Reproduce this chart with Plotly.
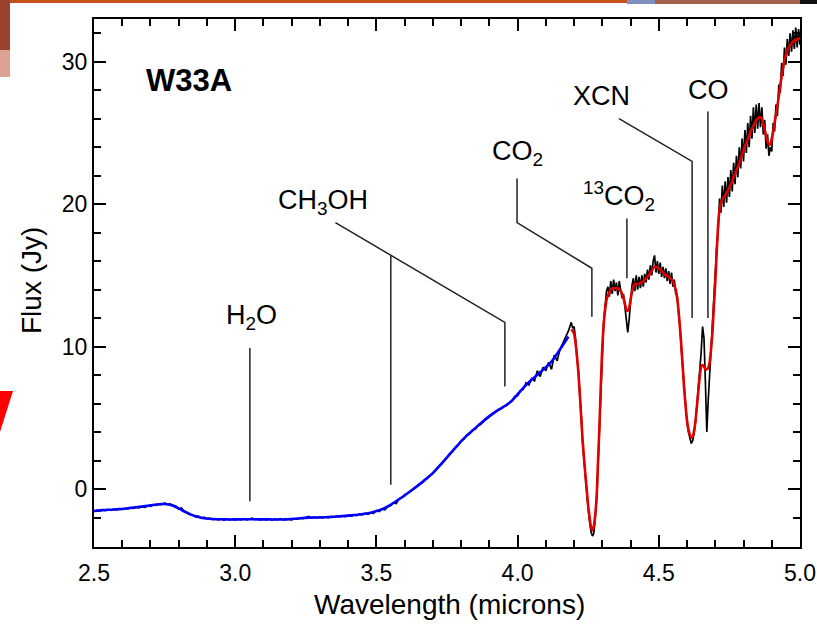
import numpy as np
import plotly.graph_objects as go

# ---------------- data ----------------
# observed spectrum (black), part 1: 2.50-4.18 micron, step 0.01
obs1_start, obs1_step = 2.50, 0.01
obs1_flux = [
    -1.58, -1.50, -1.55, -1.46, -1.52, -1.44, -1.49, -1.43, -1.46, -1.40,
    -1.43, -1.37, -1.40, -1.32, -1.36, -1.28, -1.33, -1.24, -1.28, -1.19,
    -1.22, -1.12, -1.15, -1.06, -1.10, -0.98, -1.08, -1.04, -1.15, -1.20,
    -1.40, -1.33, -1.60, -1.70, -1.80, -1.83, -1.95, -1.90, -2.05, -1.98,
    -2.10, -2.04, -2.15, -2.08, -2.16, -2.10, -2.18, -2.09, -2.16, -2.11,
    -2.17, -2.10, -2.15, -2.08, -2.16, -2.11, -2.05, -2.14, -2.09, -2.17,
    -2.10, -2.16, -2.09, -2.18, -2.12, -2.15, -2.08, -2.17, -2.11, -2.14,
    -2.16, -2.09, -2.12, -2.05, -2.08, -2.00, -1.93, -2.04, -1.97, -2.03,
    -1.96, -2.02, -1.95, -2.00, -1.92, -1.98, -1.91, -1.96, -1.88, -1.94,
    -1.85, -1.90, -1.82, -1.86, -1.76, -1.81, -1.70, -1.77, -1.66, -1.70,
    -1.52, -1.58, -1.40, -1.46, -1.25, -1.17, -0.97, -1.02, -0.70, -0.60,
    -0.40, -0.32, -0.18, 0.00, 0.10, 0.32, 0.40, 0.64, 0.75, 0.96,
    1.15, 1.30, 1.58, 1.74, 2.02, 2.20, 2.50, 2.63, 2.95, 3.10,
    3.40, 3.50, 3.80, 3.88, 4.15, 4.20, 4.45, 4.55, 4.75, 4.90,
    5.05, 5.25, 5.35, 5.55, 5.62, 5.80, 5.85, 6.05, 6.20, 6.50,
    6.55, 6.90, 7.00, 7.45, 7.30, 7.75, 7.60, 8.30, 7.90, 8.55,
    8.30, 8.90, 8.40, 9.40, 9.00, 9.80, 10.20, 10.60, 11.10,
]
# observed spectrum (black), part 2: 4.19-5.00 micron, step 0.005
obs2_start, obs2_step = 4.19, 0.005
obs2_flux = [
    11.7, 11.3, 11.4, 10.6, 9.2, 8.4, 6.6, 5.3, 3.3, 2.0,
    0.8, -0.3, -1.4, -2.3, -3.0, -3.3, -3.1, -2.0, -0.6, 1.8,
    4.4, 7.3, 9.9, 11.8, 12.9, 13.9, 14.2, 13.5, 14.6, 13.7,
    14.7, 13.9, 14.5, 13.6, 14.6, 14.0, 13.4, 13.7, 12.7, 12.0,
    11.0, 11.9, 13.5, 14.3, 14.8, 13.9, 15.0, 14.0, 14.9, 14.1,
    15.0, 14.2, 15.1, 14.5, 15.4, 14.7, 15.7, 15.0, 16.0, 16.4,
    15.2, 16.0, 15.1, 15.9, 14.9, 15.6, 14.8, 15.5, 14.6, 15.3,
    14.4, 15.2, 14.2, 14.7, 13.7, 13.6, 12.4, 11.4, 9.8, 8.4,
    6.8, 5.6, 4.6, 4.0, 3.5, 3.2, 3.4, 3.9, 4.7, 5.8,
    7.0, 8.2, 9.6, 11.4, 10.6, 7.5, 4.0, 6.2, 8.0, 10.4,
    11.8, 13.4, 15.2, 17.0, 18.0, 20.4, 19.4, 21.3, 19.8, 21.6,
    20.1, 21.9, 20.5, 22.4, 20.9, 22.9, 21.4, 23.4, 21.9, 24.0,
    22.5, 24.6, 23.0, 25.2, 23.6, 25.7, 24.0, 26.2, 24.6, 26.8,
    25.0, 27.0, 25.3, 27.1, 25.4, 26.8, 24.9, 25.9, 23.9, 24.9,
    23.4, 24.0, 23.7, 25.7, 25.1, 27.0, 26.2, 28.4, 27.8, 29.9,
    29.0, 31.0, 29.8, 31.6, 30.4, 32.0, 30.7, 32.2, 30.9, 32.4,
    31.0, 32.3, 31.2,
]
# model fit, blue part: 2.50-4.18 micron, step 0.02
blue_start, blue_step = 2.50, 0.02
blue_flux = [
    -1.54, -1.50, -1.47, -1.45, -1.42, -1.40, -1.35, -1.30, -1.25, -1.20,
    -1.15, -1.09, -1.05, -1.07, -1.18, -1.36, -1.57, -1.76, -1.91, -2.01,
    -2.07, -2.10, -2.12, -2.13, -2.14, -2.13, -2.13, -2.12, -2.12, -2.13,
    -2.13, -2.13, -2.14, -2.14, -2.13, -2.10, -2.07, -2.03, -2.01, -2.00,
    -2.00, -1.98, -1.96, -1.93, -1.90, -1.87, -1.83, -1.79, -1.74, -1.66,
    -1.55, -1.42, -1.22, -0.98, -0.72, -0.45, -0.15, 0.14, 0.45, 0.78,
    1.12, 1.55, 2.00, 2.45, 2.90, 3.35, 3.75, 4.10, 4.45, 4.80,
    5.12, 5.40, 5.65, 5.90, 6.20, 6.65, 7.10, 7.50, 7.85, 8.20,
    8.55, 8.95, 9.50, 10.10, 10.70,
]
# model fit, red part: 4.19-5.00 micron, step 0.005
red_start, red_step = 4.19, 0.005
red_flux = [
    11.2, 11.1, 10.9, 10.3, 9.4, 8.2, 6.8, 5.1, 3.5, 2.2,
    1.0, -0.1, -1.2, -2.0, -2.7, -2.9, -2.6, -1.8, -0.5, 2.0,
    4.5, 7.5, 10.0, 11.6, 12.6, 13.3, 13.6, 13.8, 14.0, 14.1,
    14.1, 14.1, 14.1, 14.1, 14.0, 13.9, 13.7, 13.4, 13.0, 12.6,
    12.5, 12.7, 13.3, 13.8, 14.2, 14.4, 14.4, 14.4, 14.4, 14.5,
    14.5, 14.6, 14.7, 14.8, 14.9, 15.0, 15.2, 15.3, 15.5, 15.6,
    15.6, 15.6, 15.5, 15.4, 15.3, 15.2, 15.1, 15.0, 15.0, 14.9,
    14.8, 14.7, 14.6, 14.3, 14.0, 13.4, 12.5, 11.3, 10.0, 8.5,
    7.0, 5.8, 4.8, 4.2, 3.8, 3.6, 3.7, 4.1, 4.8, 5.8,
    6.9, 7.9, 8.6, 8.7, 8.6, 8.4, 8.4, 8.5, 8.9, 9.8,
    11.0, 12.8, 14.5, 16.6, 18.5, 19.6, 20.1, 20.3, 20.5, 20.6,
    20.8, 21.0, 21.2, 21.4, 21.6, 21.9, 22.1, 22.4, 22.6, 22.9,
    23.2, 23.5, 23.8, 24.1, 24.3, 24.6, 24.8, 25.1, 25.3, 25.5,
    25.7, 25.9, 26.0, 26.1, 26.1, 26.0, 25.6, 25.2, 24.8, 24.4,
    24.2, 24.2, 24.6, 25.1, 25.7, 26.3, 26.9, 27.6, 28.3, 29.0,
    29.6, 30.1, 30.5, 30.8, 31.0, 31.2, 31.3, 31.4, 31.5, 31.5,
    31.6, 31.6, 31.7,
]

x_ticks = [2.5, 3.0, 3.5, 4.0, 4.5, 5.0]
x_tick_labels = ["2.5", "3.0", "3.5", "4.0", "4.5", "5.0"]
y_ticks = [0, 10, 20, 30]
y_tick_labels = ["0", "10", "20", "30"]

def grid(start, step, n):
    return np.round(start + step * np.arange(n), 4)

obs_x = np.concatenate([grid(obs1_start, obs1_step, len(obs1_flux)),
                        grid(obs2_start, obs2_step, len(obs2_flux))])
obs_y = np.array(obs1_flux + obs2_flux)
blue_x = grid(blue_start, blue_step, len(blue_flux))
red_x = grid(red_start, red_step, len(red_flux))

FONT = "Liberation Sans, Arial, Helvetica, sans-serif"

fig = go.Figure()
fig.add_trace(go.Scatter(x=obs_x, y=obs_y, mode="lines",
                         line=dict(color="black", width=1.7), showlegend=False))
fig.add_trace(go.Scatter(x=blue_x, y=blue_flux, mode="lines",
                         line=dict(color="#0000ff", width=2.6, shape="spline", smoothing=0.6),
                         showlegend=False))
fig.add_trace(go.Scatter(x=red_x, y=red_flux, mode="lines",
                         line=dict(color="#e00000", width=2.6, shape="spline", smoothing=0.6),
                         showlegend=False))

# label leader lines (data coordinates)
LC = "#222222"
leaders = [
    [(3.052, 9.9), (3.052, -0.85)],                       # H2O
    [(3.355, 18.7), (3.955, 11.7), (3.955, 7.2)],          # CH3OH (upper)
    [(3.551, 16.4), (3.551, 0.3)],                         # CH3OH (3.55)
    [(3.998, 21.8), (3.998, 18.7), (4.263, 15.5), (4.263, 12.1)],  # CO2
    [(4.387, 19.0), (4.387, 14.8)],                        # 13CO2
    [(4.359, 26.0), (4.618, 23.0), (4.618, 12.0)],         # XCN
    [(4.674, 26.5), (4.674, 12.0)],                        # CO
]
for pts in leaders:
    fig.add_trace(go.Scatter(x=[p[0] for p in pts], y=[p[1] for p in pts],
                             mode="lines", line=dict(color=LC, width=1.5),
                             showlegend=False, hoverinfo="skip"))

labels = [
    ("<b>W33A</b>", 2.835, 28.7, 31),
    ("H<sub>2</sub>O", 3.056, 12.1, 27),
    ("CH<sub>3</sub>OH", 3.31, 20.15, 27),
    ("CO<sub>2</sub>", 4.0, 23.6, 27),
    ("<sup>13</sup>CO<sub>2</sub>", 4.358, 20.6, 27),
    ("XCN", 4.298, 27.6, 27),
    ("CO", 4.676, 28.0, 27),
]
for txt, x, y, sz in labels:
    fig.add_annotation(x=x, y=y, text=txt, showarrow=False, xanchor="center",
                       yanchor="middle", font=dict(family=FONT, size=sz, color="black"))

L, R, T, B = 94, 800, 19, 547
def px2paper(px, py):
    return (px - L) / (R - L), (B - py) / (B - T)

# axis titles
ax, ay = px2paper(449, 587)
fig.add_annotation(xref="paper", yref="paper", x=ax, y=ay, text="Wavelength (microns)",
                   showarrow=False, xanchor="center", yanchor="top",
                   font=dict(family=FONT, size=28, color="black"))
ax, ay = px2paper(31, 281)
fig.add_annotation(xref="paper", yref="paper", x=ax, y=ay, text="Flux (Jy)", textangle=-90,
                   showarrow=False, xanchor="center", yanchor="middle",
                   font=dict(family=FONT, size=28, color="black"))

# slide background decorations around the figure
deco = [
    (0, 0, 817, 3, "#c4521c"),
    (0, 0, 10, 50, "#9c4330"),
    (0, 50, 10, 77, "#dca394"),
    (627, 0, 655, 4, "#7f8fc0"),
    (655, 0, 800, 4, "#a0604a"),
    (800, 0, 817, 4, "#101010"),
]
for x0, y0, x1, y1, col in deco:
    a0, b0 = px2paper(x0, y0)
    a1, b1 = px2paper(x1, y1)
    fig.add_shape(type="rect", xref="paper", yref="paper", x0=a0, y0=b0, x1=a1, y1=b1,
                  fillcolor=col, line_width=0, layer="above")
p = [px2paper(0, 391), px2paper(13, 391), px2paper(0, 432)]
fig.add_shape(type="path", xref="paper", yref="paper",
              path="M %f,%f L %f,%f L %f,%f Z" % (p[0][0], p[0][1], p[1][0], p[1][1], p[2][0], p[2][1]),
              fillcolor="#ff0000", line_width=0, layer="above")

axis_common = dict(
    showline=True, linecolor="black", linewidth=2, mirror="ticks",
    ticks="inside", ticklen=12, tickwidth=1.5, tickcolor="black",
    showgrid=False, zeroline=False, automargin=False,
    tickfont=dict(family=FONT, size=23, color="black"),
)
fig.update_xaxes(range=[2.5, 5.0], tickvals=x_ticks, ticktext=x_tick_labels,
                 minor=dict(dtick=0.1, ticks="inside", ticklen=7, tickwidth=1.5, tickcolor="black"),
                 ticklabelstandoff=4, **axis_common)
fig.update_yaxes(range=[-4.07, 33.0], tickvals=y_ticks, ticktext=y_tick_labels,
                 minor=dict(dtick=2, ticks="inside", ticklen=7, tickwidth=1.5, tickcolor="black"),
                 **axis_common)

fig.update_layout(width=817, height=627, margin=dict(l=L, r=817 - R, t=T, b=627 - B),
                  plot_bgcolor="white", paper_bgcolor="white",
                  font=dict(family=FONT, color="black"))

fig.write_html("out.html")
